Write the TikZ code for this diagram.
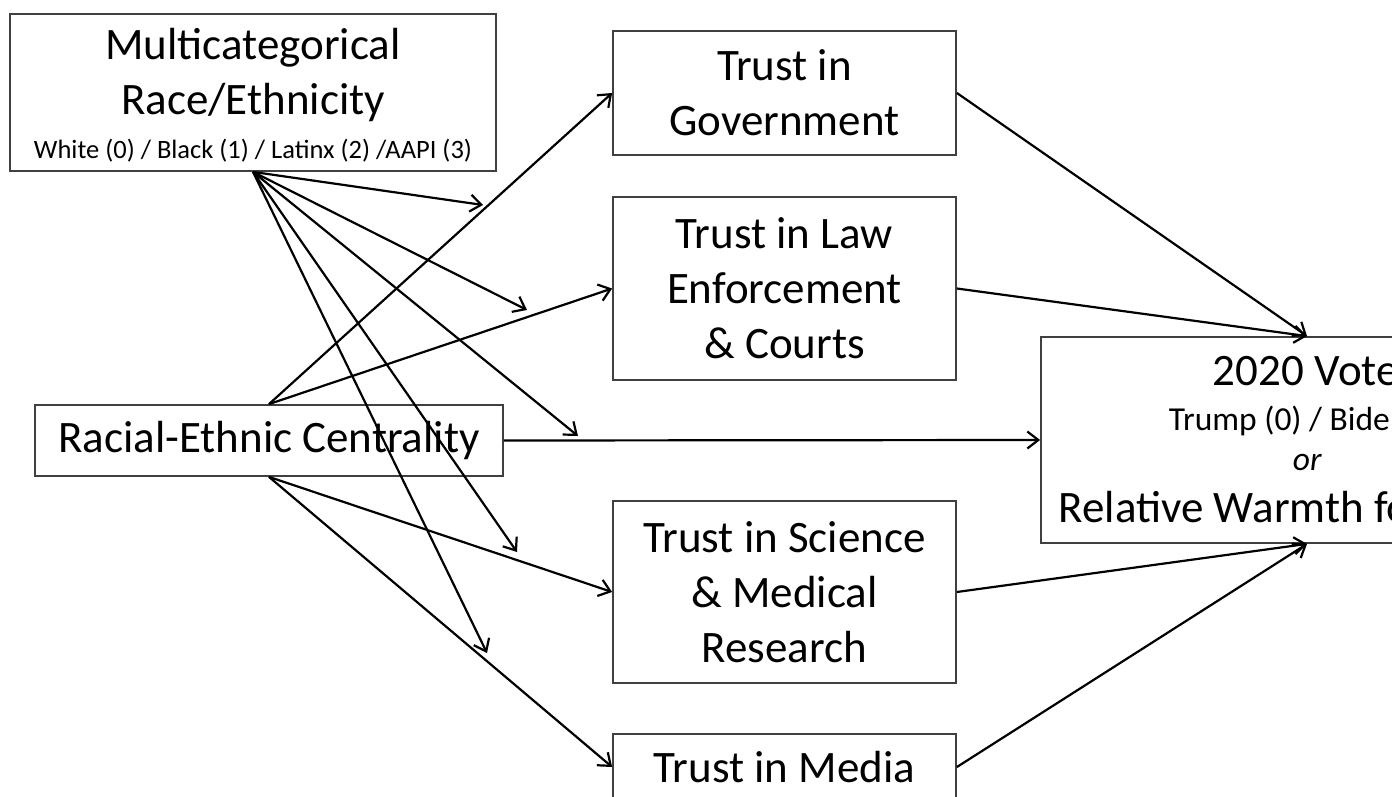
\documentclass[tikz,border=0pt]{standalone}
\usepackage{fontspec}
\setmainfont{Carlito}
\usetikzlibrary{arrows.meta}

\begin{document}
\begin{tikzpicture}[x=1pt, y=-1pt, >={Straight Barb[length=11pt, width=17pt]},
        every node/.style={draw=black!75, line width=1.8pt, align=center, font=\fontsize{45}{55}\selectfont},
        link/.style={->, line width=2.2pt}]
            \useasboundingbox (0, 0) rectangle (1392, 797);

            % Nodes
            \node[minimum width=486pt, minimum height=157pt] at (253, 92.5) (race)
                {Multicategorical\\Race/Ethnicity\\[-17pt]\raisebox{-6pt}[\height][\depth]{\fontsize{26.5}{30}\selectfont White (0) / Black (1) / Latinx (2) /AAPI (3)}};
            \node[minimum width=468pt, minimum height=71pt] at (269, 440.5) (centrality) {Racial-Ethnic Centrality};

            \node[minimum width=343pt, minimum height=124pt] at (784.5, 93) (gov) {Trust in\\Government};
            \node[minimum width=343pt, minimum height=183pt] at (784.5, 288.5) (law) {Trust in Law\\Enforcement\\\& Courts};
            \node[minimum width=343pt, minimum height=182pt] at (784.5, 592) (sci) {Trust in Science\\\& Medical\\Research};
            \node[minimum width=343pt, minimum height=66pt] at (784.5, 767) (media) {Trust in Media};

            \node[minimum width=532pt, minimum height=206pt] at (1307, 440) (vote) {};
            \node[draw = none, anchor=base west, inner sep=0pt] at (1212, 385) (votetitle) {2020 Vote};
            \node[draw = none, anchor=base west, inner sep=0pt, font=\fontsize{33.5}{40}\selectfont] at (1168, 430) (votecode) {Trump (0) / Bide};
            \node[draw = none, anchor=base west, inner sep=0pt, font=\fontsize{33.5}{40}\selectfont\itshape] at (1292, 470) (voteor) {or};
            \node[draw = none, anchor=base west, inner sep=0pt] at (1058, 522) (votewarmth) {Relative Warmth fo};

            % Moderation ends
            \coordinate (mgov) at (483, 205);
            \coordinate (mlaw) at (527, 310);
            \coordinate (mvote) at (578, 436);
            \coordinate (msci) at (517, 552);
            \coordinate (mmedia) at (487, 653);

            % Edges
            \draw[link] (race.south) -- (mgov);
            \draw[link] (race.south) -- (mlaw);
            \draw[link] (race.south) -- (mvote);
            \draw[link] (race.south) -- (msci);
            \draw[link] (race.south) -- (mmedia);

            \draw[link] (centrality.north) -- (gov.west);
            \draw[link] (centrality.north) -- (law.west);
            \draw[link] (centrality.east) -- (vote.west);
            \draw[link] (centrality.south) -- (sci.west);
            \draw[link] (centrality.south) -- (media.west);

            \draw[link] (gov.east) -- (vote.north);
            \draw[link] (law.east) -- (vote.north);
            \draw[link] (sci.east) -- (vote.south);
            \draw[link] (media.east) -- (vote.south);
        \end{tikzpicture}
\end{document}
